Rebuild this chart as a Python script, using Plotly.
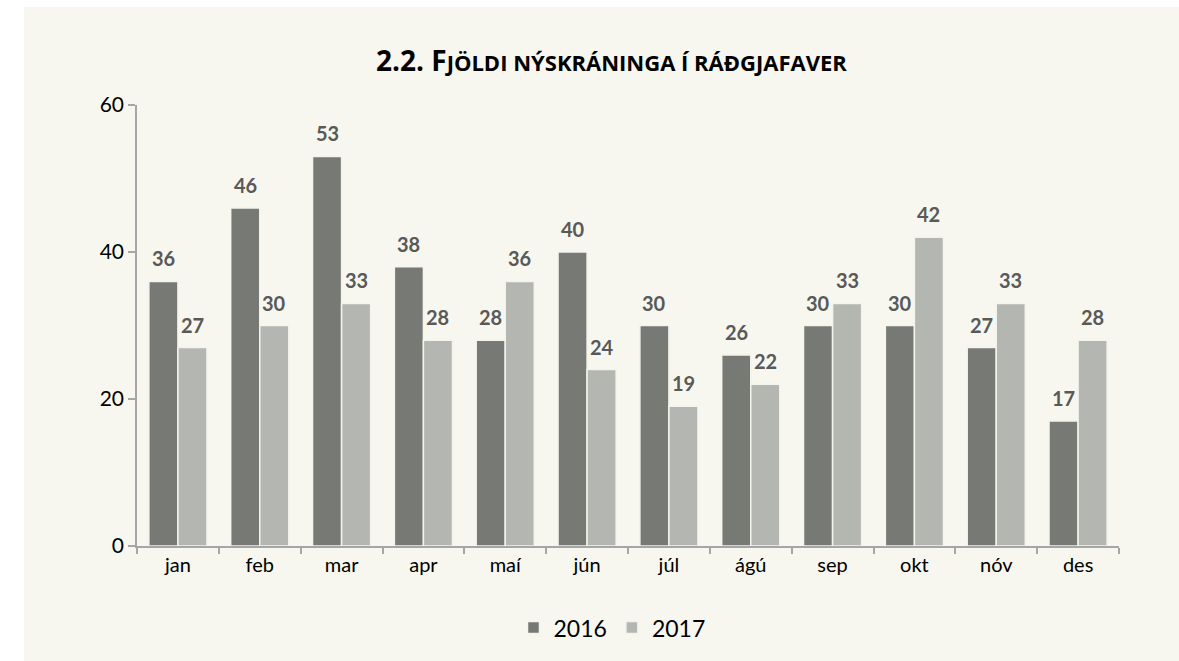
import plotly.graph_objects as go

months = ["jan", "feb", "mar", "apr", "maí", "jún", "júl", "ágú", "sep", "okt", "nóv", "des"]
values_2016 = [36, 46, 53, 38, 28, 40, 30, 26, 30, 30, 27, 17]
values_2017 = [27, 30, 33, 28, 36, 24, 19, 22, 33, 42, 33, 28]
series_names = ["2016", "2017"]
y_ticks = [0, 20, 40, 60]

# page body has an 8px margin, so the figure is placed at (8, 8)
OFF = 8
W, H = 1171, 653
L, T = 137 - OFF, 105 - OFF
R = OFF + W - 1119
B = OFF + H - 548
PW, PH = W - L - R, H - T - B

FONT = "Lato, 'Open Sans', sans-serif"
label_color = "#595959"
BARGAP = 0.29
PANEL = "#F7F7EF"

fig = go.Figure()
colors = ["#777975", "#B4B6B2"]
series = [values_2016, values_2017]
for name, vals, col in zip(series_names, series, colors):
    fig.add_trace(go.Bar(
        x=months, y=vals, name=name,
        marker=dict(color=col, line=dict(color="#F4F4EC", width=1.5)),
    ))

# data labels above bars, positioned in axis units
bw = (1 - BARGAP) / 2
for k, vals in enumerate(series):
    off = (k - 0.5) * bw
    for i, v in enumerate(vals):
        fig.add_annotation(
            x=i + off, y=v, xref="x", yref="y", text=f"<b>{v}</b>",
            showarrow=False, yshift=23, yanchor="middle", xanchor="center",
            font=dict(family=FONT, size=20, color=label_color),
        )

fig.update_layout(
    width=W, height=H,
    margin=dict(l=L, r=R, t=T, b=B),
    paper_bgcolor="rgba(0,0,0,0)", plot_bgcolor="rgba(0,0,0,0)",
    barmode="group", bargap=BARGAP, bargroupgap=0.0,
    font=dict(family=FONT, color="#000000"),
    showlegend=True,
    legend=dict(orientation="h", x=(612 - 137) / PW, xanchor="center",
                y=-(630 - 548) / PH, yanchor="middle",
                bgcolor="rgba(0,0,0,0)",
                font=dict(size=23, family=FONT, color="#000000"),
                itemwidth=30, traceorder="normal"),
    xaxis=dict(showline=True, linecolor="#A6A6A6", linewidth=1.5,
               ticks="outside", ticklen=6, tickcolor="#A6A6A6", tickwidth=1.5,
               tickson="boundaries", tickfont=dict(size=20, family=FONT, color="#000000"),
               showgrid=False),
    yaxis=dict(range=[0, 60], tickvals=y_ticks, showline=True, linecolor="#A6A6A6",
               linewidth=1.5, ticks="outside", ticklen=7, tickcolor="#A6A6A6", tickwidth=1.5,
               tickfont=dict(size=21, family=FONT, color="#000000"), showgrid=False,
               zeroline=False),
)

fig.add_annotation(
    xref="paper", yref="paper", x=(611 - 137) / PW, y=1 + (105 - 60) / PH,
    xanchor="center", yanchor="middle", showarrow=False,
    text="<b><span style='font-size:28px'>2.2. F</span>JÖLDI NÝSKRÁNINGA Í RÁÐGJAFAVER</b>",
    font=dict(family="'Open Sans', Lato, sans-serif", size=22, color="#000000"),
)

page_js = (
    "document.documentElement.style.overflow='hidden';"
    "document.body.style.overflow='hidden';"
    "document.documentElement.style.background="
    "'linear-gradient(to bottom, #ffffff 7px, rgba(255,255,255,0) 7px), "
    "linear-gradient(to right, #ffffff 24px, " + PANEL + " 24px)';"
    "document.documentElement.style.minHeight='100%';"
)

fig.write_html("out.html", post_script=page_js)
